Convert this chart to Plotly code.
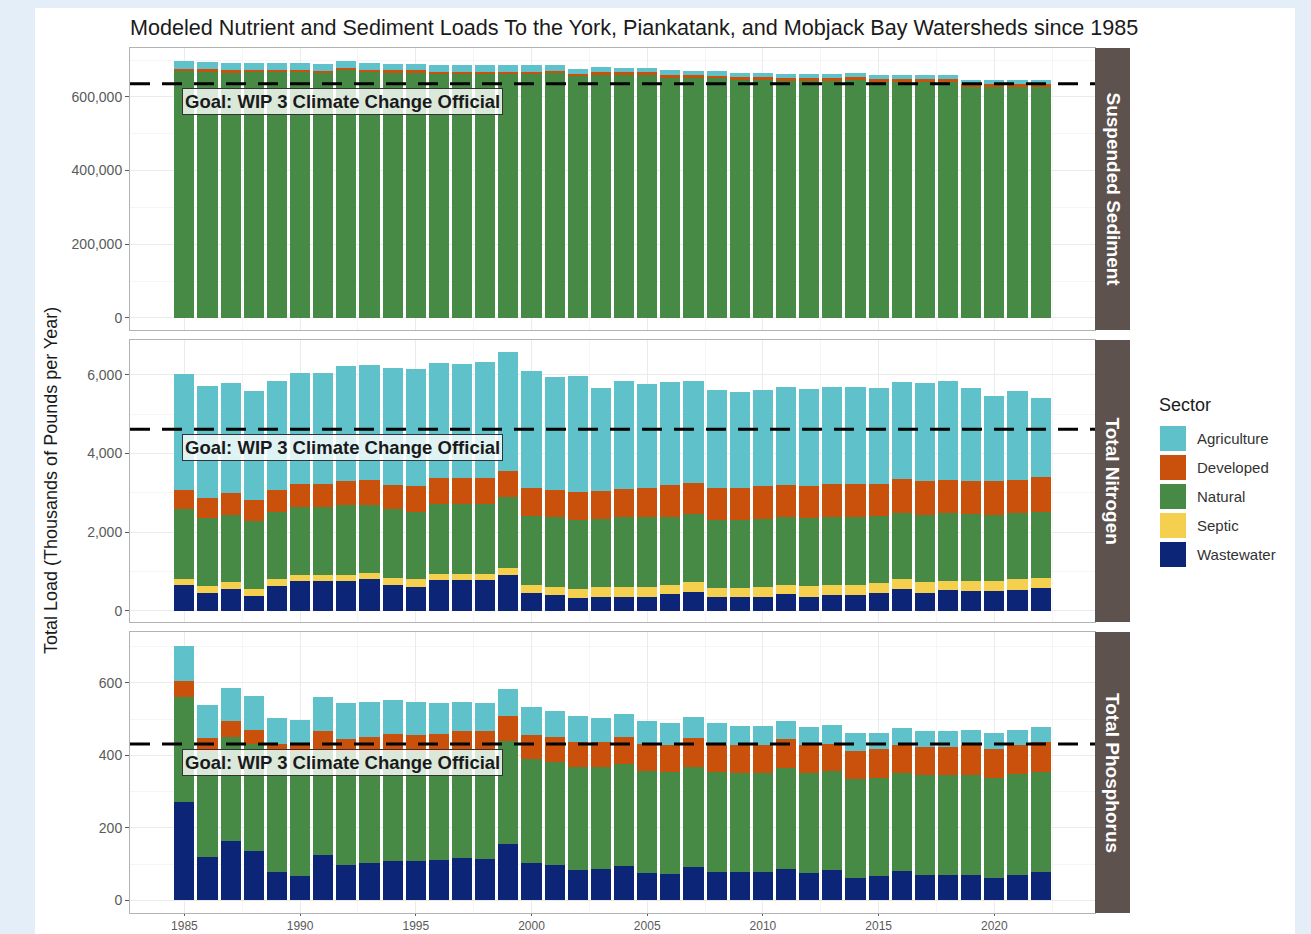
import plotly.graph_objects as go

# ---------------- data ----------------
years = list(range(1985, 2023))
sectors = ["Agriculture", "Developed", "Natural", "Septic", "Wastewater"]
colors = {"Agriculture": "#5fc1ca", "Developed": "#c9510c", "Natural": "#478a46",
          "Septic": "#f4d04e", "Wastewater": "#0c2577"}
panel_names = ["Suspended Sediment", "Total Nitrogen", "Total Phosphorus"]
goal_values = [636000, 4620, 431]
goal_label = "Goal: WIP 3 Climate Change Official"

# Suspended sediment (thousands of pounds per year)
sed_ag = [21000, 20000, 20000, 19000, 19000, 19000, 19000, 20000, 19000, 18000, 18000, 17000, 17000,
          17000, 17000, 17000, 16000, 14000, 14000, 13000, 13000, 13000, 12000, 12000, 12000, 12000,
          11000, 11000, 11000, 11000, 10000, 10000, 10000, 10000, 9000, 9000, 9000, 9000]
sed_dev = [6000, 6000, 6000, 6000, 6000, 6000, 6000, 6000, 6000, 6000, 6000, 6000, 6000, 6000, 6000,
           6000, 6000, 7000, 7000, 7000, 7000, 7000, 7000, 7000, 8000, 8000, 8000, 8000, 8000, 8000,
           8000, 8000, 8000, 8000, 9000, 9000, 9000, 9000]
sed_nat = [671000, 669000, 666000, 667000, 668000, 667000, 664000, 672000, 668000, 666000, 666000,
           663000, 663000, 663000, 663000, 663000, 664000, 656000, 660000, 660000, 660000, 652000,
           652000, 651000, 646000, 646000, 644000, 644000, 644000, 646000, 641000, 641000, 641000,
           641000, 627000, 627000, 627000, 627000]
sed_sep = [0] * 38
sed_ww = [0] * 38

# Total nitrogen
n_ag = [2949, 2846, 2795, 2778, 2778, 2820, 2812, 2931, 2949, 2966, 2992, 2932, 2906, 2966, 3017,
        2991, 2880, 2958, 2633, 2761, 2649, 2624, 2607, 2495, 2444, 2453, 2479, 2479, 2479, 2479,
        2427, 2462, 2504, 2513, 2367, 2179, 2248, 2009]
n_dev = [487, 514, 555, 530, 556, 581, 581, 599, 624, 615, 641, 658, 658, 658, 675, 701, 701, 700,
         701, 718, 727, 795, 786, 812, 803, 837, 829, 812, 829, 829, 821, 854, 855, 854, 846, 855,
         854, 889]
n_nat = [1778, 1735, 1710, 1734, 1726, 1735, 1735, 1777, 1726, 1752, 1726, 1778, 1778, 1778, 1795,
         1761, 1778, 1752, 1735, 1778, 1795, 1735, 1736, 1735, 1735, 1727, 1726, 1735, 1735, 1735,
         1710, 1701, 1710, 1719, 1702, 1676, 1684, 1666]
n_sep = [154, 162, 170, 188, 180, 163, 163, 163, 171, 180, 197, 171, 171, 171, 197, 205, 196, 240,
         239, 239, 239, 231, 256, 231, 231, 256, 223, 256, 256, 256, 256, 239, 273, 247, 256, 273,
         265, 265]
n_ww = [658, 453, 556, 368, 615, 752, 752, 752, 795, 658, 598, 769, 769, 769, 897, 453, 402, 316,
        359, 359, 359, 427, 470, 342, 342, 342, 427, 359, 402, 402, 444, 556, 453, 513, 504, 487,
        530, 573]

# Total phosphorus
p_ag = [97, 90, 91, 93, 72, 68, 94, 99, 97, 93, 91, 84, 81, 79, 77, 77, 73, 73, 66, 63, 64, 61, 59,
        61, 53, 55, 50, 52, 52, 48, 43, 46, 46, 46, 44, 43, 42, 43]
p_dev = [44, 38, 45, 40, 20, 20, 53, 36, 45, 50, 48, 50, 54, 54, 67, 67, 69, 68, 68, 75, 75, 73, 78,
         73, 75, 75, 80, 75, 75, 79, 82, 77, 77, 77, 82, 82, 82, 82]
p_nat = [291, 291, 286, 294, 334, 343, 289, 312, 303, 301, 299, 298, 295, 297, 285, 287, 284, 285,
         283, 279, 280, 281, 278, 276, 274, 274, 280, 276, 273, 272, 269, 272, 274, 274, 274, 274,
         276, 276]
p_sep = [0] * 38
p_ww = [270, 119, 164, 137, 78, 67, 124, 97, 102, 109, 109, 112, 117, 115, 155, 103, 97, 83, 85,
        96, 76, 73, 91, 78, 78, 78, 85, 76, 83, 62, 67, 80, 71, 71, 71, 62, 71, 78]

panels = [
    {"Agriculture": sed_ag, "Developed": sed_dev, "Natural": sed_nat, "Septic": sed_sep, "Wastewater": sed_ww},
    {"Agriculture": n_ag, "Developed": n_dev, "Natural": n_nat, "Septic": n_sep, "Wastewater": n_ww},
    {"Agriculture": p_ag, "Developed": p_dev, "Natural": p_nat, "Septic": p_sep, "Wastewater": p_ww},
]

# ---------------- layout geometry (pixels) ----------------
W, H = 1311, 934
ML, MR, MT, MB = 130, 216, 48, 21
PW, PH = W - ML - MR, H - MT - MB


def px_x(px):
    return (px - ML) / PW


def px_y(py):
    return (H - MB - py) / PH


panel_px = [(48, 330), (340, 622), (632, 913)]
domains = [[px_y(b), px_y(t)] for t, b in panel_px]
y_ranges = [[-33000, 733000], [-290, 6890], [-35, 740]]
y_ticks = [[0, 200000, 400000, 600000], [0, 2000, 4000, 6000], [0, 200, 400, 600]]
y_minor = [100000, 1000, 100]

FONT = "Liberation Sans, Arial, Helvetica, sans-serif"
TICK_GREY = "#5a5a5a"

fig = go.Figure()
stack_order = ["Wastewater", "Septic", "Natural", "Developed", "Agriculture"]
for i, pdata in enumerate(panels):
    suf = "" if i == 0 else str(i + 1)
    for s in stack_order:
        fig.add_trace(go.Bar(
            x=years, y=pdata[s], name=s, marker=dict(color=colors[s], line=dict(width=0)),
            width=0.87, xaxis="x" + suf, yaxis="y" + suf, showlegend=False,
        ))

layout = dict(
    width=W, height=H, barmode="stack", bargap=0,
    margin=dict(l=ML, r=MR, t=MT, b=MB, autoexpand=False),
    paper_bgcolor="#e4eef8", plot_bgcolor="white",
    font=dict(family=FONT, color=TICK_GREY),
    title=dict(text="Modeled Nutrient and Sediment Loads To the York, Piankatank, and Mobjack Bay Watersheds since 1985",
               x=px_x(130), xref="paper", xanchor="left", y=1 - 27 / H, yref="container", yanchor="middle",
               font=dict(size=21.6, color="#1a1a1a", family=FONT)),
)

shapes = []
annotations = []

# white page area
shapes.append(dict(type="rect", xref="paper", yref="paper", x0=px_x(35), x1=px_x(1295),
                   y0=px_y(934), y1=px_y(8), fillcolor="white", line=dict(width=0), layer="below"))

for i in range(3):
    suf = "" if i == 0 else str(i + 1)
    xname = "xaxis" + suf
    yname = "yaxis" + suf
    layout[xname] = dict(
        domain=[0, 1], anchor="y" + suf, range=[1982.65, 2024.35],
        tickvals=[1985, 1990, 1995, 2000, 2005, 2010, 2015, 2020],
        showticklabels=(i == 2), ticks="outside" if i == 2 else "", ticklen=2, tickcolor=TICK_GREY,
        tickfont=dict(size=12, color=TICK_GREY),
        showgrid=True, gridcolor="#ebebeb", gridwidth=1,
        minor=dict(dtick=2.5, tick0=1982.5, showgrid=True, gridcolor="#f5f5f5", gridwidth=1),
        showline=True, mirror=True, linecolor="#b3b3b3", linewidth=1, zeroline=False,
    )
    if i > 0:
        layout[xname]["matches"] = "x"
    layout[yname] = dict(
        domain=domains[i], anchor="x" + suf, range=y_ranges[i], tickvals=y_ticks[i],
        tickformat=",", ticks="outside", ticklen=4, tickcolor=TICK_GREY,
        tickfont=dict(size=14, color=TICK_GREY),
        showgrid=True, gridcolor="#ebebeb", gridwidth=1,
        minor=dict(dtick=y_minor[i], tick0=y_minor[i], showgrid=True, gridcolor="#f5f5f5", gridwidth=1),
        showline=True, mirror=True, linecolor="#b3b3b3", linewidth=1, zeroline=False,
    )

    # goal line
    shapes.append(dict(type="line", xref="x" + suf + " domain", yref="y" + suf, x0=0, x1=1,
                       y0=goal_values[i], y1=goal_values[i],
                       line=dict(color="black", width=3, dash="20px,12px")))
    # goal label
    annotations.append(dict(x=years[0], y=goal_values[i], xref="x" + suf, yref="y" + suf,
                            text="<b>" + goal_label + "</b>", showarrow=False, xanchor="left",
                            yanchor="middle", yshift=-18, xshift=-2,
                            font=dict(size=18.5, color="#1a1a1a", family=FONT),
                            bgcolor="rgba(255,255,255,0.8)", bordercolor="#333333", borderwidth=1,
                            borderpad=2))
    # strip
    shapes.append(dict(type="rect", xref="paper", yref="paper", x0=1.0, x1=px_x(1130),
                       y0=domains[i][0], y1=domains[i][1], fillcolor="#5e524e",
                       line=dict(width=0)))
    annotations.append(dict(x=(1.0 + px_x(1130)) / 2, y=sum(domains[i]) / 2, xref="paper", yref="paper",
                            text="<b>" + panel_names[i] + "</b>", showarrow=False, textangle=90,
                            xanchor="center", yanchor="middle",
                            font=dict(size=19, color="white", family=FONT)))

# y axis title
annotations.append(dict(x=px_x(51), y=px_y(481), xref="paper", yref="paper",
                        text="Total Load (Thousands of Pounds per Year)", showarrow=False, textangle=-90,
                        xanchor="center", yanchor="middle",
                        font=dict(size=18, color="#1a1a1a", family=FONT)))

# legend (custom keys)
annotations.append(dict(x=px_x(1157), y=px_y(405), xref="paper", yref="paper", text="Sector",
                        showarrow=False, xanchor="left", yanchor="middle",
                        font=dict(size=18, color="#1a1a1a", family=FONT)))
for k, s in enumerate(sectors):
    top = 426 + 29 * k
    shapes.append(dict(type="rect", xref="paper", yref="paper", x0=px_x(1160), x1=px_x(1186),
                       y0=px_y(top + 25), y1=px_y(top), fillcolor=colors[s], line=dict(width=0)))
    annotations.append(dict(x=px_x(1195), y=px_y(top + 12.5), xref="paper", yref="paper", text=s,
                            showarrow=False, xanchor="left", yanchor="middle",
                            font=dict(size=15, color="#333333", family=FONT)))

layout["shapes"] = shapes
layout["annotations"] = annotations
fig.update_layout(**layout)
fig.write_html("out.html", config={"displayModeBar": False},
               post_script="document.body.style.margin='0';document.body.style.background='#e4eef8';")
